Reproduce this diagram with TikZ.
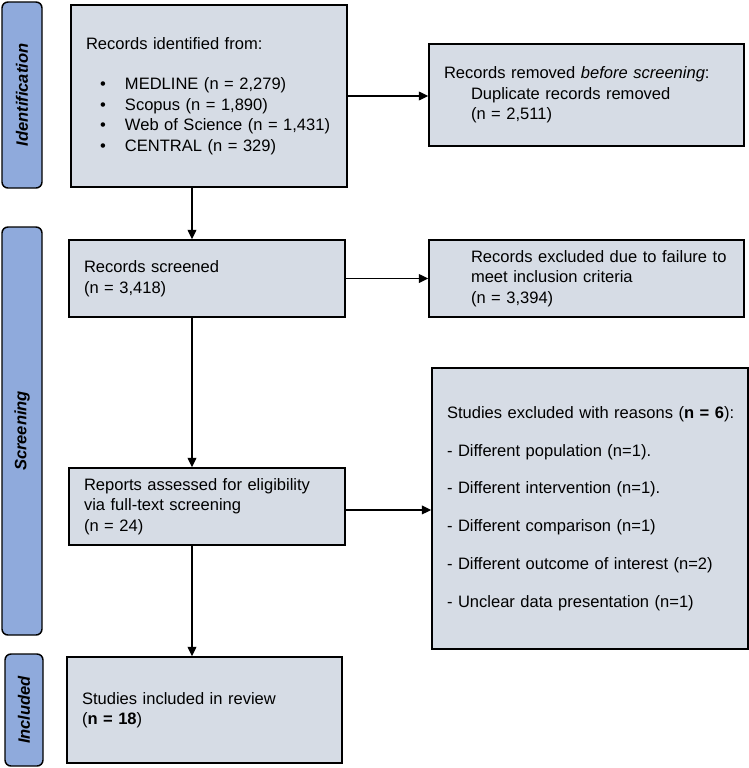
\documentclass[tikz,border=0pt]{standalone}
\usepackage{fontspec}
\setmainfont{Liberation Sans}
\usetikzlibrary{arrows.meta}
\definecolor{boxfill}{HTML}{D6DCE5}
\definecolor{phasefill}{HTML}{8FAADC}
\tikzset{
  box/.style={draw=black, line width=1.1pt, fill=boxfill, align=left,
    inner xsep=11.25pt, inner ysep=0pt,
    font=\fontsize{12.4pt}{15.4pt}\selectfont},
  phase/.style={draw=black, line width=1.1pt, fill=phasefill,
    rounded corners=4.5pt, rotate=90, inner sep=0pt,
    font=\fontsize{12.4pt}{15pt}\selectfont\bfseries\itshape},
  flow/.style={-{Triangle[length=7pt,width=6.5pt]}, line width=1pt}
}
\begin{document}
\begin{tikzpicture}[x=0.75pt,y=-0.75pt]
  \useasboundingbox (0,0) rectangle (749,768);
  \node[phase, minimum width=139.5pt, minimum height=30pt] (p1) at (22,95) {Identification};
  \node[phase, minimum width=306pt, minimum height=30pt] (p2) at (22,431) {Screening};
  \node[phase, minimum width=84pt, minimum height=28.5pt] (p3) at (24,710) {Included};
  \node[box, text width=184.5pt, minimum height=136.5pt] (ident) at (209,96)
    {Records identified from:\\[15pt]
     \hspace*{10.5pt}\makebox[18.75pt][l]{\textbullet}MEDLINE (n = 2,279)\\
     \hspace*{10.5pt}\makebox[18.75pt][l]{\textbullet}Scopus (n = 1,890)\\
     \hspace*{10.5pt}\makebox[18.75pt][l]{\textbullet}Web of Science (n = 1,431)\\
     \hspace*{10.5pt}\makebox[18.75pt][l]{\textbullet}CENTRAL (n = 329)};
  \node[box, text width=213.75pt, minimum height=76.5pt] (removed) at (586.5,95)
    {Records removed \textit{before screening}:\\
     \hspace*{20.25pt}Duplicate records removed\\
     \hspace*{20.25pt}(n = 2,511)};
  \node[box, text width=184.5pt, minimum height=57.75pt] (screened) at (207,278.5)
    {Records screened\\
     (n = 3,418)};
  \node[box, text width=213.75pt, minimum height=57.75pt] (excluded) at (586.5,278.5)
    {\hspace*{20.25pt}Records excluded due to failure to\\
     \hspace*{20.25pt}meet inclusion criteria\\
     \hspace*{20.25pt}(n = 3,394)};
  \node[box, text width=184.5pt, minimum height=57.75pt] (reports) at (207,506.5)
    {Reports assessed for eligibility\\
     via full-text screening\\
     (n = 24)};
  \node[box, text width=214.5pt, minimum height=210.75pt] (reasons) at (590,508.5)
    {\mbox{Studies excluded with reasons (\textbf{n = 6}):}\\[12.9pt]
     - Different population (n=1).\\[12.9pt]
     - Different intervention (n=1).\\[12.9pt]
     - Different comparison (n=1)\\[12.9pt]
     - Different outcome of interest (n=2)\\[12.9pt]
     - Unclear data presentation (n=1)};
  \node[box, text width=183.75pt, minimum height=79.5pt] (included) at (204.5,710)
    {Studies included in review\\
     (\textbf{n = 18})};
  \coordinate (spine) at (192,0);
  \begin{scope}[flow]
    \draw (ident.east) -- (ident.east -| removed.west);
    \draw (spine |- ident.south) -- (spine |- screened.north);
    \draw (screened.east) -- (excluded.west);
    \draw (spine |- screened.south) -- (spine |- reports.north);
    \draw ([yshift=-2.6pt]reports.east) -- ([yshift=-2.6pt]reports.east -| reasons.west);
    \draw (spine |- reports.south) -- (spine |- included.north);
  \end{scope}
\end{tikzpicture}
\end{document}
